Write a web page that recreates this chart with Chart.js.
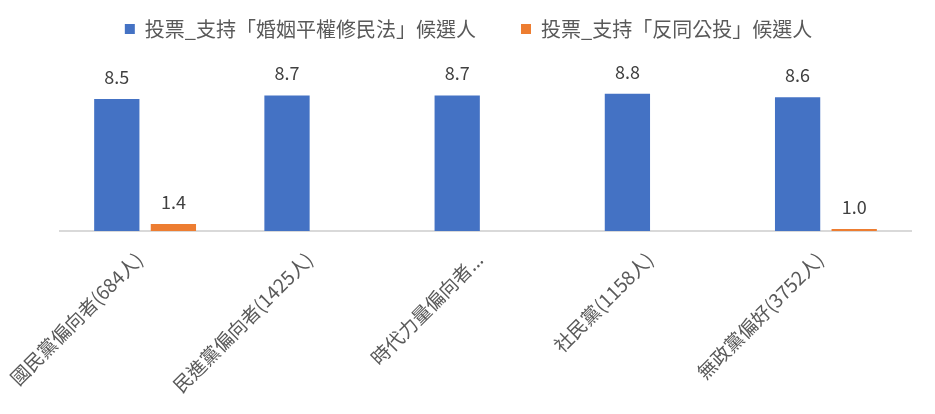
<!DOCTYPE html>
<html>
<head>
<meta charset="utf-8">
<script src="https://cdn.jsdelivr.net/npm/chart.js@4.4.0/dist/chart.umd.min.js"></script>
<style>
  html, body { margin: 0; padding: 0; background: #fff; }
  #wrap { width: 935px; height: 414px; }
</style>
</head>
<body>
<div id="wrap"><canvas id="chart"></canvas></div>
<script>
const categories = ['國民黨偏向者(684人)', '民進黨偏向者(1425人)', '時代力量偏向者...', '社民黨(1158人)', '無政黨偏好(3752人)'];
const seriesNames = ['投票_支持「婚姻平權修民法」候選人', '投票_支持「反同公投」候選人'];
const marriageValues = [8.5, 8.7, 8.7, 8.8, 8.6];
const antiValues = [1.4, null, null, null, 1.0];

const fontFamily = '"Noto Sans CJK TC", "Noto Sans", sans-serif';

// draws the value above each bar
const valueLabels = {
    id: 'valueLabels',
    afterDatasetsDraw(chart) {
        const ctx = chart.ctx;
        ctx.save();
        ctx.font = '18px ' + fontFamily;
        ctx.fillStyle = '#404040';
        ctx.textAlign = 'center';
        ctx.textBaseline = 'middle';
        chart.data.datasets.forEach((ds, i) => {
            const meta = chart.getDatasetMeta(i);
            meta.data.forEach((bar, j) => {
                const v = ds.data[j];
                if (v === null || v === undefined) return;
                ctx.fillText(v.toFixed(1), bar.x, Math.min(bar.y, bar.base) - 22);
            });
        });
        ctx.restore();
    }
};

const chartElement = document.getElementById('chart').getContext('2d');

const chart = new Chart(chartElement, {
    type: 'bar',
    data: {
        labels: categories,
        datasets: [{
            label: seriesNames[0],
            data: marriageValues,
            backgroundColor: '#4472C4',
            categoryPercentage: 0.665,
            barPercentage: 0.8,
            base: 1
        }, {
            label: seriesNames[1],
            data: antiValues,
            backgroundColor: '#ED7D31',
            categoryPercentage: 0.665,
            barPercentage: 0.8,
            base: 1,
            minBarLength: 2
        }]
    },
    options: {
        responsive: true,
        maintainAspectRatio: false,
        animation: false,
        layout: {
            padding: { left: 26, right: 24, top: -26, bottom: 0 }
        },
        scales: {
            x: {
                grid: { display: false },
                border: { color: '#d9d9d9', width: 2 },
                ticks: {
                    color: '#595959',
                    font: { family: fontFamily, size: 19 },
                    minRotation: 45,
                    maxRotation: 45,
                    padding: 9,
                    labelOffset: -6
                },
                afterFit(scale) {
                    scale.height = 183;
                    scale.paddingLeft = 0;
                    scale.paddingRight = 0;
                }
            },
            y: {
                min: 1,
                max: 11.35,
                grid: { display: false },
                border: { display: false },
                ticks: { display: false },
                afterFit(scale) {
                    scale.width = 34;
                }
            }
        },
        plugins: {
            legend: {
                position: 'top',
                labels: {
                    boxWidth: 10,
                    boxHeight: 10,
                    padding: 45,
                    color: '#595959',
                    font: { family: fontFamily, size: 20 }
                }
            },
            tooltip: { enabled: false }
        }
    },
    plugins: [valueLabels]
});
</script>
</body>
</html>
